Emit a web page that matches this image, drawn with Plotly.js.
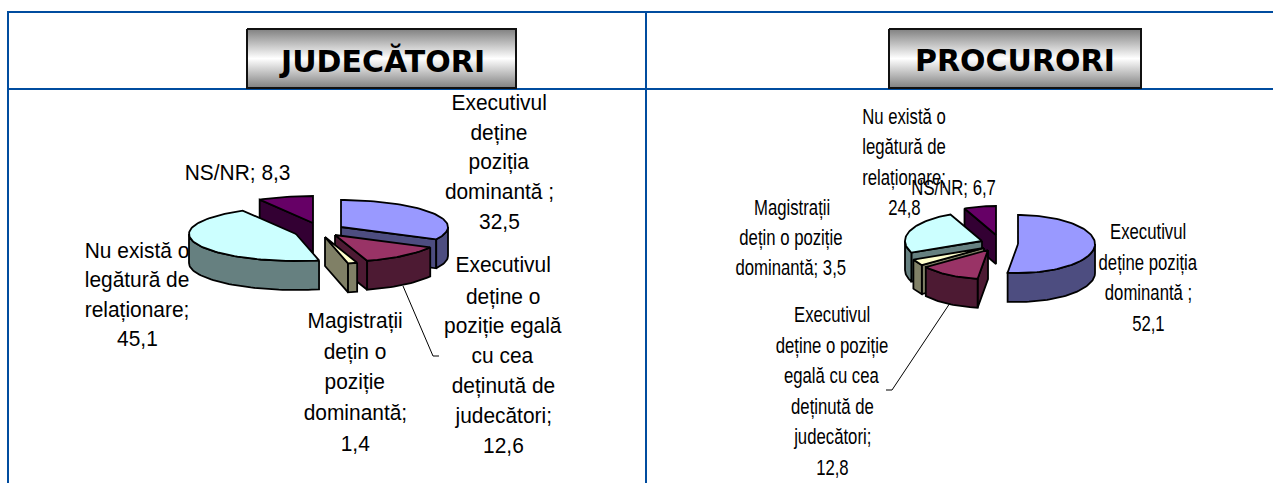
<!DOCTYPE html>
<html>
<head>
<meta charset="utf-8">
<script src="https://cdn.plot.ly/plotly-3.0.1.min.js"></script>
<style>html,body{margin:0;padding:0;background:#fff;overflow:hidden}#c{width:1273px;height:483px}</style>
</head>
<body>
<div id="c"></div>
<script>
// ---------- data ----------
const categories = [
  "Executivul deține poziția dominantă",
  "Executivul deține o poziție egală cu cea deținută de judecători",
  "Magistrații dețin o poziție dominantă",
  "Nu există o legătură de relaționare",
  "NS/NR"
];
const valuesJudecatori = [32.5, 12.6, 1.4, 45.1, 8.3];
const valuesProcurori  = [52.1, 12.8, 3.5, 24.8, 6.7];
const panelTitles = ["JUDECĂTORI", "PROCURORI"];
const topColors  = ["#9999FF", "#993366", "#FFFFCC", "#CCFFFF", "#660066"];
const wallColors = ["#4D4D80", "#4D1A33", "#808066", "#668080", "#330033"];

// ---------- layout of the exploded slices ----------
const apexJ = [[341,227],[335,235],[325,237],[296,234],[313,223]];
const apexP = [[1018,244],[988,250],[984,248],[982,241],[996,235]];
const orderJ = [4,0,3,1,2];
const orderP = [4,3,2,1,0];
const panelJ = {values: valuesJudecatori, apex: apexJ, order: orderJ, rx: 107, ry: 27, depth: 29};
const panelP = {values: valuesProcurori,  apex: apexP, order: orderP, rx: 77,  ry: 29, depth: 29};

// ---------- label lines: [text, centre x, centre y] ----------
const labelsJ = [
  ["Executivul",499,102],["deține",499,132],["poziția",499,161],["dominantă ;",499,191],["32,5",499,221],
  ["NS/NR; 8,3",237,172],
  ["Nu există o",137,250],["legătură de",137,279],["relaționare;",137,309],["45,1",137,338],
  ["Magistrații",355,320],["dețin o",355,351],["poziție",355,381],["dominantă;",355,412],["1,4",355,443],
  ["Executivul",503,264],["deține o",503,296],["poziție egală",503,325],["cu cea",503,355],["deținută de",503,385],["judecători;",503,415],["12,6",503,445]
];
const labelsP = [
  ["Nu există o",904,116],["legătură de",904,146],["relaționare;",904,177],["24,8",904,207],
  ["NS/NR; 6,7",953,187],
  ["Magistrații",792,207],["dețin o poziție",791,237],["dominantă; 3,5",791,267],
  ["Executivul",1148,231],["deține poziția",1148,262],["dominantă ;",1148,292],["52,1",1148,323],
  ["Executivul",832,314],["deține o poziție",832,345],["egală cu cea",832,375],["deținută de",832,406],["judecători;",832,436],["12,8",832,467]
];
const leaderJ = {x:[403,433,439], y:[286,356,356]};
const leaderP = {x:[950,892,886], y:[303,390,390]};
const boxes = [{x0:247,x1:516,y0:29,y1:88},{x0:889,x1:1141,y0:29,y1:88}];
const squeezeJ = 0.95, squeezeP = 0.76;

// ---------- drawing ----------
const traces = [];
const rad = d => d * Math.PI / 180;
function rim(a, rx, ry, t){ return [a[0] + rx*Math.sin(rad(t)), a[1] - ry*Math.cos(rad(t))]; }
function poly(xy, fill){
  xy = xy.concat([xy[0]]);
  traces.push({type:"scatter", mode:"lines", x:xy.map(p=>p[0]), y:xy.map(p=>p[1]), fill:"toself", fillcolor:fill,
    line:{color:"#000", width:1.8}, hoverinfo:"skip", showlegend:false});
}
function arc(a, rx, ry, t1, t2){
  const pts = [], n = Math.max(2, Math.ceil((t2-t1)/2));
  for(let i=0;i<=n;i++) pts.push(rim(a, rx, ry, t1+(t2-t1)*i/n));
  return pts;
}
function drawPanel(p){
  const total = p.values.reduce((s,v)=>s+v,0);
  const starts = []; let cum = 0;
  p.values.forEach(v=>{ starts.push(cum/total*360); cum += v; });
  p.order.forEach(i=>{
    const a = p.apex[i], t1 = starts[i], t2 = starts[i] + p.values[i]/total*360;
    const d = p.depth, down = q => [q[0], q[1]+d];
    if(Math.cos(rad(t1-90)) < -1e-6){ const r = rim(a,p.rx,p.ry,t1); poly([a,r,down(r),down(a)], wallColors[i]); }
    if(Math.cos(rad(t2+90)) < -1e-6){ const r = rim(a,p.rx,p.ry,t2); poly([a,r,down(r),down(a)], wallColors[i]); }
    const w1 = Math.max(t1,90), w2 = Math.min(t2,270);
    if(w2 > w1){ const e = arc(a,p.rx,p.ry,w1,w2); poly(e.concat(e.slice().reverse().map(down)), wallColors[i]); }
    poly([a].concat(arc(a,p.rx,p.ry,t1,t2)), topColors[i]);
  });
}
drawPanel(panelJ);
drawPanel(panelP);

[leaderJ, leaderP].forEach(l=>traces.push({type:"scatter", mode:"lines", x:l.x, y:l.y,
  line:{color:"#000", width:1}, hoverinfo:"skip", showlegend:false}));

boxes.forEach(b=>traces.push({type:"scatter", mode:"lines",
  x:[b.x0,b.x1,b.x1,b.x0,b.x0], y:[b.y0,b.y0,b.y1,b.y1,b.y0], fill:"toself",
  fillgradient:{type:"vertical", colorscale:[[0,"#808080"],[0.5,"#FFFFFF"],[1,"#808080"]]},
  line:{color:"#111", width:2}, hoverinfo:"skip", showlegend:false}));

const ann = [];
function lbl(t,x,y,font){ ann.push({text:t,x:x,y:y,xref:"x",yref:"y",showarrow:false,xanchor:"center",yanchor:"middle",font:font}); }
labelsJ.forEach(l=>lbl(l[0],l[1],l[2],{family:"Liberation Sans, Arial, sans-serif",size:22,color:"#000"}));
const endJ = ann.length;
labelsP.forEach(l=>lbl(l[0],l[1],l[2],{family:"Liberation Sans, Arial, sans-serif",size:22,color:"#000"}));
const endP = ann.length;
boxes.forEach((b,i)=>lbl(panelTitles[i],(b.x0+b.x1)/2,(b.y0+b.y1)/2+2,{family:"DejaVu Sans, Verdana, sans-serif",size:30,color:"#000",weight:"bold"}));

const blue = "#004C9F";
const seg = (x0,y0,x1,y1)=>({type:"line",xref:"x",yref:"y",x0,y0,x1,y1,layer:"below",line:{color:blue,width:2}});
const layout = {
  width:1273, height:483, margin:{l:0,r:0,t:0,b:0}, paper_bgcolor:"#fff", plot_bgcolor:"#fff",
  showlegend:false, hovermode:false,
  xaxis:{range:[0,1273],visible:false,fixedrange:true},
  yaxis:{range:[483,0],visible:false,fixedrange:true},
  shapes:[seg(7,12,1273,12),seg(7,89,1273,89),seg(8,12,8,483),seg(646,12,646,483)],
  annotations:ann
};
Plotly.newPlot("c", traces, layout, {displayModeBar:false, staticPlot:true}).then(gd=>{
  // the labels are taller than wide in the source: squeeze the same real text horizontally
  const texts = gd.querySelectorAll(".annotation-text");
  texts.forEach((el,i)=>{
    if(i<endP){
      const f = i<endJ ? squeezeJ : squeezeP;
      el.setAttribute("textLength", (el.getComputedTextLength()*f).toFixed(1));
      el.setAttribute("lengthAdjust","spacingAndGlyphs");
    }
  });
});
</script>
</body>
</html>
